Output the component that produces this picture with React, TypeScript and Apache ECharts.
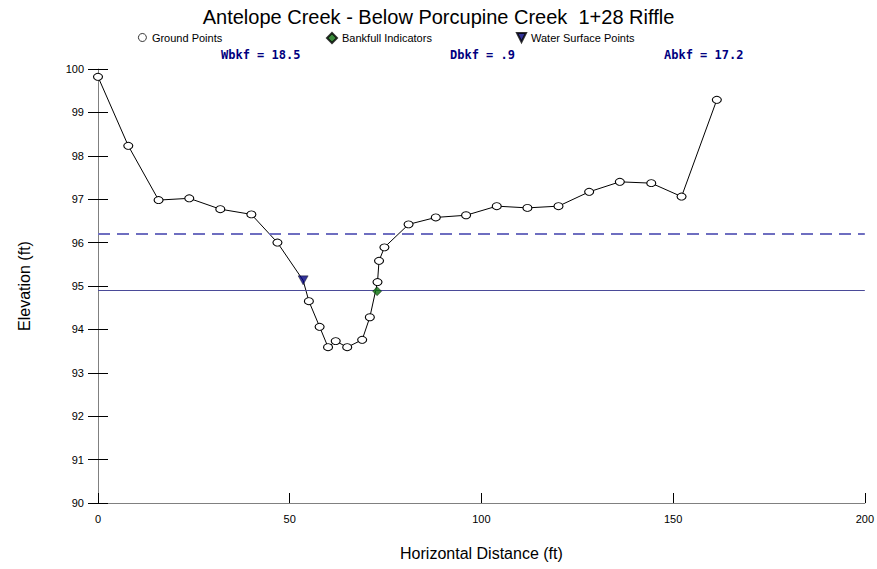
import React, { useEffect, useRef } from "react";
import * as echarts from "echarts";

const titleText = "Antelope Creek - Below Porcupine Creek  1+28 Riffle";
const groundX = [0, 7.9, 15.8, 23.8, 31.9, 40.0, 46.8, 53.5, 55.0, 57.8, 60.0, 62.0, 65.0, 68.9, 70.9, 72.9, 73.3, 74.7, 81.0, 88.1, 96.0, 104.0, 112.0, 120.1, 128.1, 136.1, 144.3, 152.2, 161.4];
const groundY = [99.82, 98.23, 96.98, 97.02, 96.77, 96.65, 96.0, 95.13, 94.65, 94.06, 93.59, 93.73, 93.59, 93.76, 94.28, 95.09, 95.58, 95.89, 96.42, 96.58, 96.63, 96.84, 96.8, 96.84, 97.17, 97.4, 97.37, 97.06, 99.29];
const bankfullPts = [[72.8, 94.88]];
const waterPts = [[53.5, 95.13]];
const bankfullElev = 94.9;
const dashedElev = 96.2;
const stats = ["Wbkf = 18.5", "Dbkf = .9", "Abkf = 17.2"];

export default function App() {
  const ref = useRef<HTMLDivElement>(null);
  useEffect(() => {
    if (!ref.current) return;
    const chart = echarts.init(ref.current, null, { renderer: "svg" });
    const hidden = new Set(waterPts.map((p) => p[0]));
    const ground = groundX.map((x, i) =>
      hidden.has(x) ? { value: [x, groundY[i]], symbol: "none" } : [x, groundY[i]]
    );
    const font = "Liberation Sans, Arial, sans-serif";
    const legendCommon = {
      orient: "horizontal",
      padding: 0,
      itemWidth: 10,
      itemHeight: 10,
      top: 32,
      textStyle: { fontFamily: font, fontSize: 11, color: "#000" },
      selectedMode: false,
    };
    const statFont = "bold 12px 'DejaVu Sans Mono', monospace";
    chart.setOption({
      animation: false,
      backgroundColor: "#fff",
      title: {
        text: titleText,
        left: "center",
        top: 2,
        textStyle: { fontFamily: font, fontSize: 20, fontWeight: "normal", color: "#000" },
      },
      legend: [
        {
          ...legendCommon,
          data: [{ name: "Ground Points", icon: "circle", itemStyle: { color: "#fff", borderColor: "#000", borderWidth: 0.8 } }],
          left: 138,
          itemHeight: 8,
          itemWidth: 9,
        },
        { ...legendCommon, data: [{ name: "Bankfull Indicators", icon: "diamond" }], left: 326 },
        { ...legendCommon, data: [{ name: "Water Surface Points", icon: "path://M0,0 L10,0 L5,10 Z" }], left: 516, itemWidth: 9, itemHeight: 9 },
      ],
      graphic: [
        { type: "text", left: 221, top: 49, style: { text: stats[0], font: statFont, fill: "#000080" } },
        { type: "text", left: 450, top: 49, style: { text: stats[1], font: statFont, fill: "#000080" } },
        { type: "text", left: 664, top: 49, style: { text: stats[2], font: statFont, fill: "#000080" } },
      ],
      grid: { left: 98, right: 11, top: 69, bottom: 66, containLabel: false },
      xAxis: {
        type: "value",
        min: 0,
        max: 200,
        interval: 50,
        name: "Horizontal Distance (ft)",
        nameLocation: "middle",
        nameGap: 42,
        nameTextStyle: { fontFamily: font, fontSize: 16, color: "#000" },
        axisLine: { onZero: false, lineStyle: { color: "#808080", width: 1 } },
        axisTick: { inside: true, length: 10, lineStyle: { color: "#000" } },
        axisLabel: { fontFamily: font, fontSize: 11, color: "#000", margin: 10 },
        splitLine: { show: false },
      },
      yAxis: [
        {
          type: "value",
          min: 90,
          max: 100,
          interval: 1,
          name: "Elevation (ft)",
          nameLocation: "middle",
          nameGap: 66,
          nameRotate: 90,
          nameTextStyle: { fontFamily: font, fontSize: 16, color: "#000" },
          axisLine: { show: true, onZero: false, lineStyle: { color: "#808080", width: 1 } },
          axisTick: { show: true, inside: false, length: 10, lineStyle: { color: "#000" } },
          axisLabel: { fontFamily: font, fontSize: 11, color: "#000", margin: 14 },
          splitLine: { show: false },
        },
        {
          type: "value",
          min: 90,
          max: 100,
          interval: 1,
          position: "left",
          axisLine: { show: false, onZero: false },
          axisTick: { show: true, inside: true, length: 10, lineStyle: { color: "#000" } },
          axisLabel: { show: false },
          splitLine: { show: false },
        },
      ],
      series: [
        {
          name: "Ground Points",
          type: "line",
          data: ground,
          symbol: "circle",
          symbolSize: [9, 7],
          showAllSymbol: true,
          itemStyle: { color: "#fff", borderColor: "#000", borderWidth: 1 },
          lineStyle: { color: "#000", width: 1 },
          z: 3,
          markLine: {
            silent: true,
            symbol: "none",
            label: { show: false },
            data: [
              { yAxis: dashedElev, lineStyle: { color: "#6e6ec0", width: 2, type: [12, 7] } },
              { yAxis: bankfullElev, lineStyle: { color: "#4a4a98", width: 1, type: "solid" } },
            ],
          },
        },
        {
          name: "Bankfull Indicators",
          type: "scatter",
          data: bankfullPts,
          symbol: "diamond",
          symbolSize: 9,
          itemStyle: { color: "#0a6e0a", borderColor: "#000", borderWidth: 0.5 },
          z: 5,
        },
        {
          name: "Water Surface Points",
          type: "scatter",
          data: waterPts,
          symbol: "path://M0,0 L10,0 L5,10 Z",
          symbolSize: [10, 9],
          itemStyle: { color: "#000080", borderColor: "#000", borderWidth: 0.5 },
          z: 5,
        },
      ],
    });
    return () => chart.dispose();
  }, []);
  return <div ref={ref} style={{ width: 877, height: 569, position: "absolute", left: 0, top: 0 }} />;
}
